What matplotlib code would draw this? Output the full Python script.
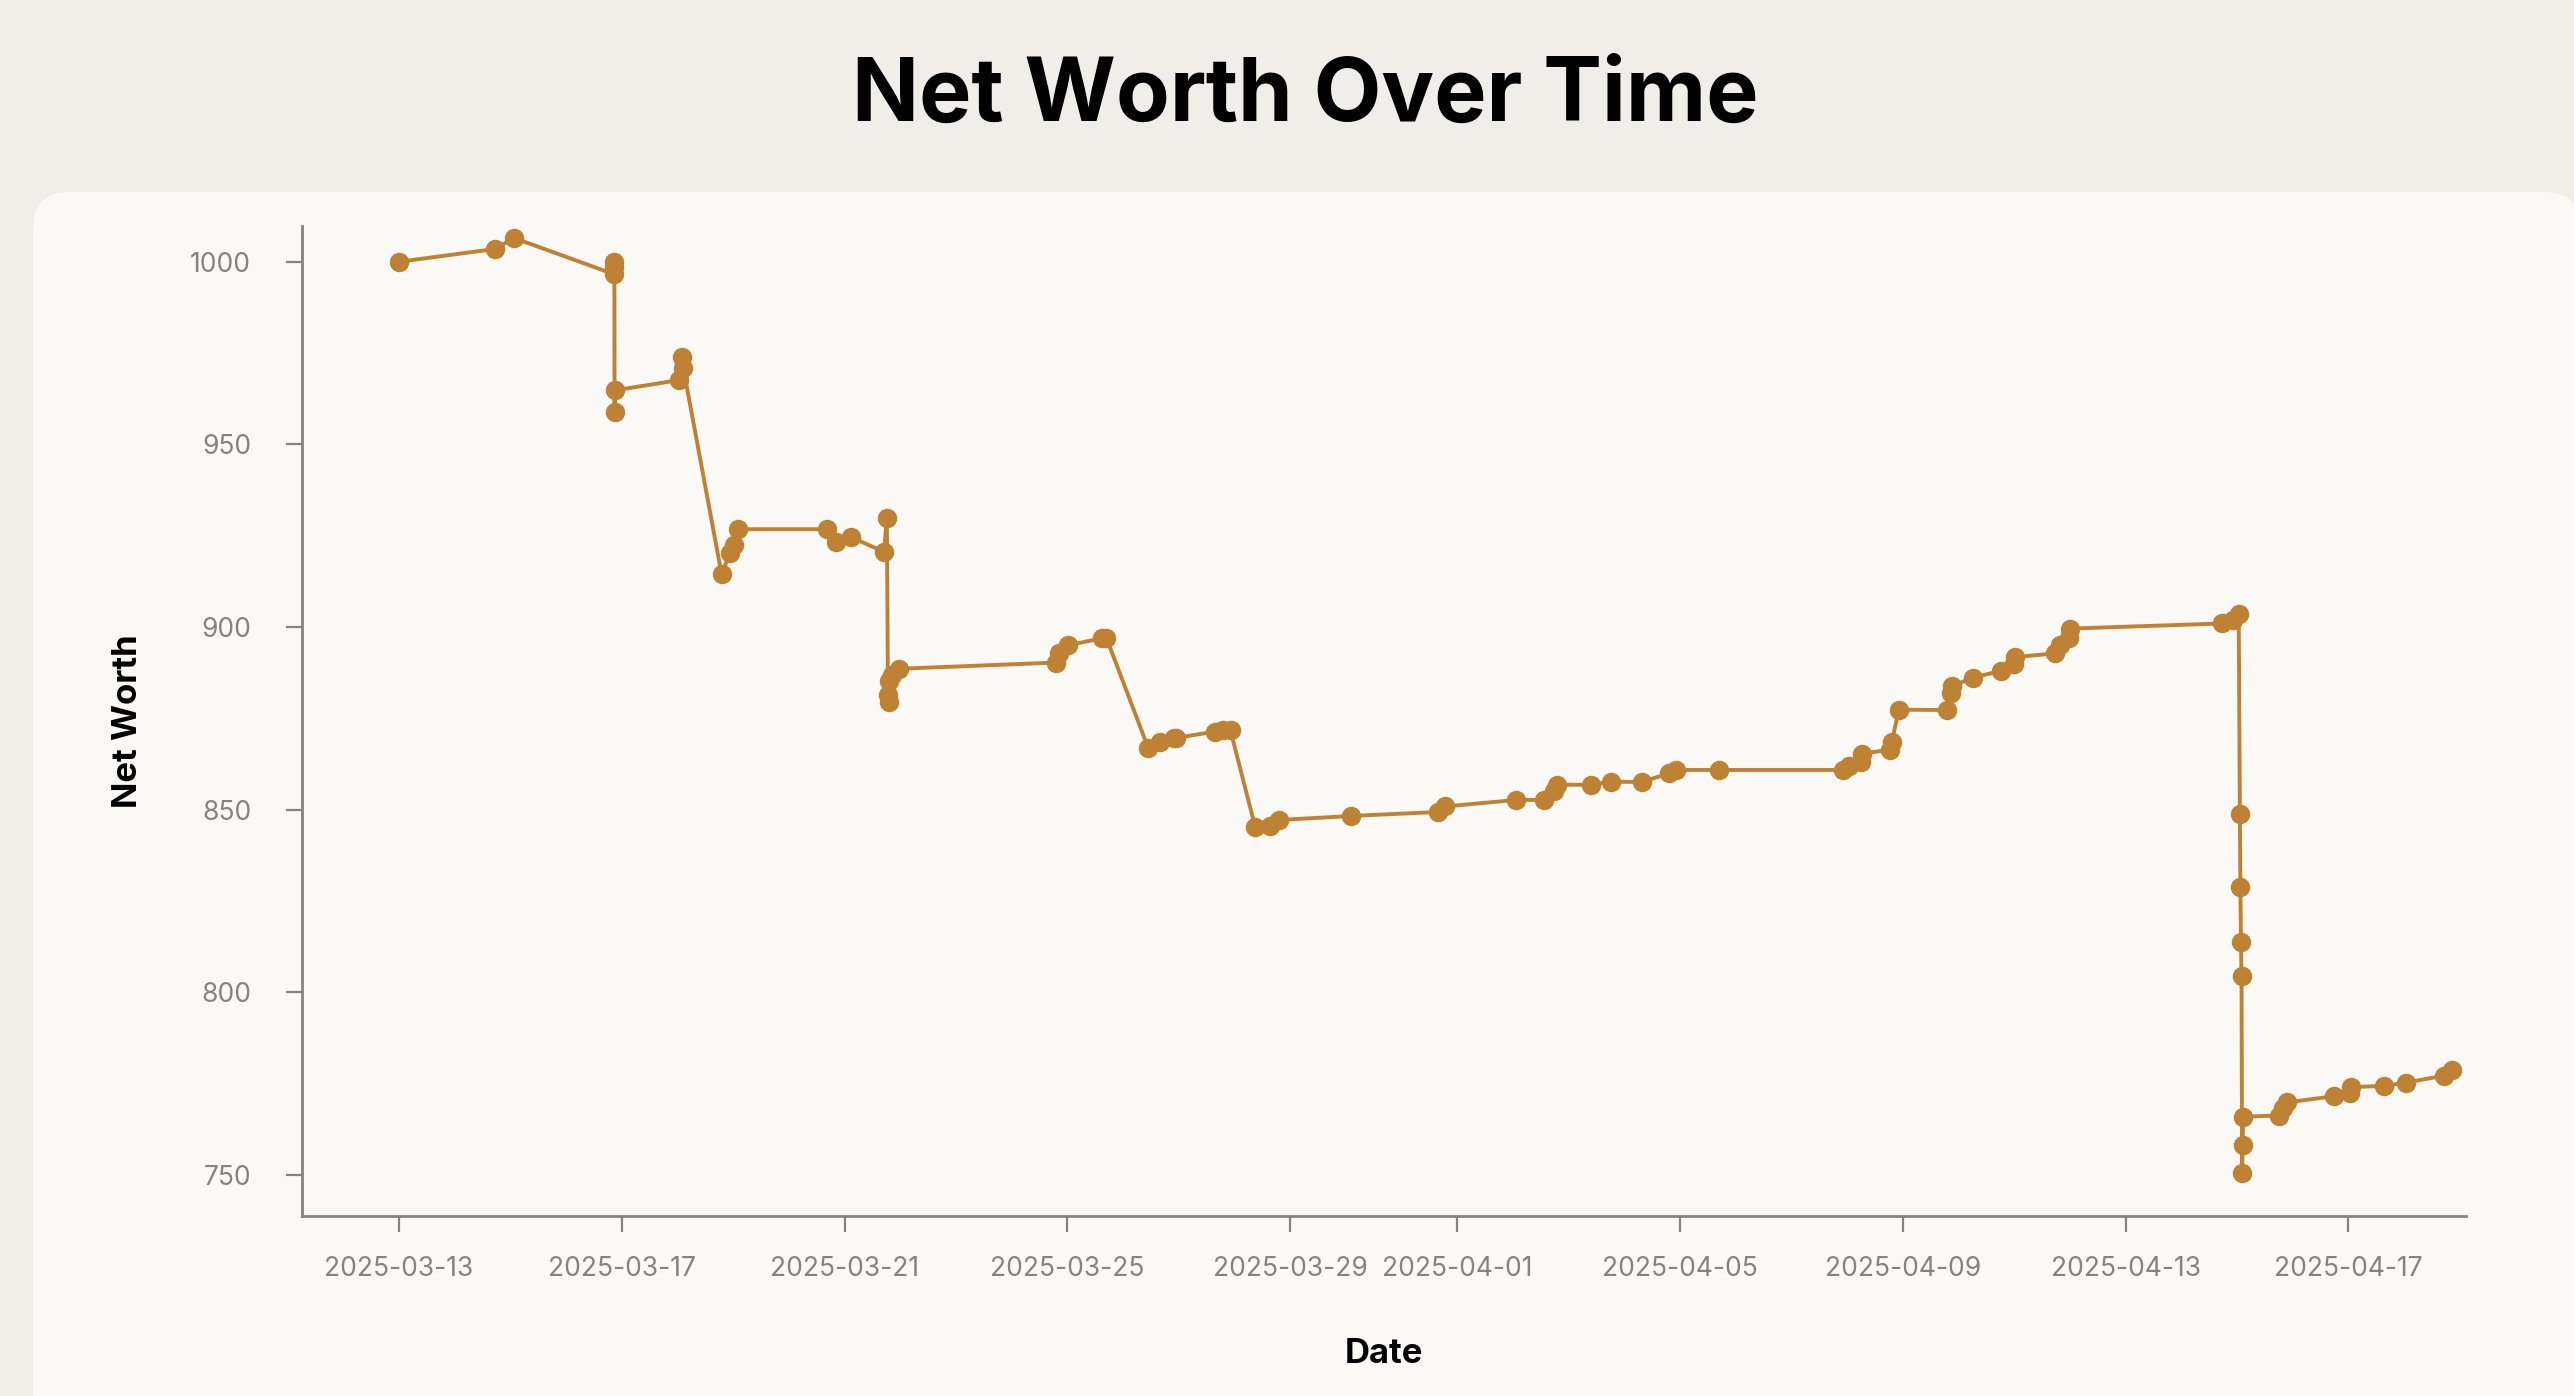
import matplotlib
matplotlib.use("Agg")
import matplotlib.pyplot as plt
import matplotlib.dates as mdates
from matplotlib.patches import FancyBboxPatch
import pandas as pd

# net worth snapshots
timestamps = [
    "2025-03-13 00:00", "2025-03-14 17:15", "2025-03-15 01:40",
    "2025-03-16 20:40", "2025-03-16 20:45", "2025-03-16 20:50", "2025-03-16 20:55", "2025-03-16 21:00",
    "2025-03-18 00:30", "2025-03-18 02:00", "2025-03-18 02:30",
    "2025-03-18 19:00", "2025-03-18 22:48", "2025-03-19 00:30", "2025-03-19 02:10",
    "2025-03-20 16:19", "2025-03-20 20:10", "2025-03-21 02:53", "2025-03-21 17:02", "2025-03-21 18:14",
    "2025-03-21 18:43", "2025-03-21 18:58", "2025-03-21 19:12", "2025-03-21 20:24", "2025-03-21 23:31",
    "2025-03-24 19:12", "2025-03-24 20:24", "2025-03-25 00:14", "2025-03-25 15:07", "2025-03-25 16:48",
    "2025-03-26 10:48", "2025-03-26 16:05", "2025-03-26 21:50", "2025-03-26 23:02",
    "2025-03-27 15:36", "2025-03-27 19:12", "2025-03-27 22:19",
    "2025-03-28 08:53", "2025-03-28 15:22", "2025-03-28 19:12",
    "2025-03-30 02:10", "2025-03-31 15:36", "2025-03-31 18:43",
    "2025-04-02 01:26", "2025-04-02 13:26", "2025-04-02 17:46", "2025-04-02 18:58",
    "2025-04-03 09:36", "2025-04-03 18:14", "2025-04-04 07:26", "2025-04-04 19:26", "2025-04-04 22:19",
    "2025-04-05 16:34", "2025-04-07 22:05", "2025-04-08 00:58", "2025-04-08 05:46", "2025-04-08 06:29",
    "2025-04-08 18:29", "2025-04-08 19:12", "2025-04-08 22:19",
    "2025-04-09 18:58", "2025-04-09 20:53", "2025-04-09 21:22", "2025-04-10 06:14", "2025-04-10 18:14",
    "2025-04-11 00:00", "2025-04-11 00:29", "2025-04-11 17:31", "2025-04-11 19:41", "2025-04-11 23:31",
    "2025-04-12 00:00", "2025-04-14 17:31", "2025-04-14 22:05", "2025-04-15 00:43",
    "2025-04-15 01:12", "2025-04-15 01:26", "2025-04-15 01:41", "2025-04-15 01:55",
    "2025-04-15 02:10", "2025-04-15 02:24", "2025-04-15 02:38",
    "2025-04-15 18:14", "2025-04-15 19:41", "2025-04-15 21:36", "2025-04-16 17:46",
    "2025-04-17 00:29", "2025-04-17 00:58", "2025-04-17 15:22", "2025-04-18 00:43",
    "2025-04-18 17:02", "2025-04-18 20:24",
]
net_worth = [
    1000.0, 1003.5, 1006.5,
    996.6, 1000.0, 998.6, 959.0, 964.8,
    967.6, 974.0, 971.0,
    914.6, 920.3, 922.6, 926.8,
    926.8, 923.2, 924.6, 920.6, 929.8,
    881.5, 879.6, 885.3, 886.9, 888.6,
    890.3, 893.0, 895.0, 897.0, 897.1,
    867.0, 868.5, 869.6, 869.7,
    871.4, 871.8, 871.7,
    845.4, 845.6, 847.2,
    848.3, 849.4, 850.9,
    852.7, 852.7, 855.2, 856.9,
    856.8, 857.7, 857.6, 860.0, 860.9,
    860.9, 860.9, 862.0, 863.1, 865.4,
    866.4, 868.5, 877.4,
    877.3, 882.0, 883.9, 886.2, 888.0,
    890.0, 891.8, 892.8, 895.0, 896.9,
    899.6, 901.0, 902.0, 903.5,
    848.8, 828.8, 813.9, 804.4,
    750.6, 758.3, 766.0,
    766.3, 768.4, 769.9, 771.6,
    772.6, 774.1, 774.4, 775.3,
    777.2, 778.8,
]

BG = "#EFEEE8"
PANEL = "#FAF9F5"
LINE = "#BF8235"
GREY = "#85837E"

plt.rcParams["font.family"] = ["Inter", "DejaVu Sans"]

dates = pd.to_datetime(timestamps)

fig = plt.figure(figsize=(12.87, 6.98), dpi=200, facecolor=BG)

# rounded card behind the chart
panel = FancyBboxPatch((0.165, -0.2), 12.9 - 0.165, 6.02 + 0.2,
                       boxstyle="round,pad=0,rounding_size=0.18",
                       transform=fig.dpi_scale_trans, facecolor=PANEL,
                       edgecolor="none", zorder=-10)
fig.patches.append(panel)

fig.text(0.507, 1 - 98 / 1396, "Net Worth Over Time", ha="center", va="center",
         fontsize=31.7, fontweight="bold", color="black")

ax = fig.add_axes([302 / 2574, 1 - 1216 / 1396, 2164 / 2574, 990 / 1396])
ax.set_zorder(5)
ax.set_facecolor("none")
ax.plot(dates, net_worth, color=LINE, lw=1.4, marker="o", markersize=6)

ax.set_xlim(pd.Timestamp("2025-03-13") - pd.Timedelta(days=1.74),
            pd.Timestamp("2025-03-13") + pd.Timedelta(days=37.11))
ax.set_ylim(738.8, 1009.8)
ax.set_yticks([750, 800, 850, 900, 950, 1000])
ax.xaxis.set_major_locator(mdates.DayLocator(bymonthday=range(1, 32, 4)))
ax.xaxis.set_major_formatter(mdates.DateFormatter("%Y-%m-%d"))

for side in ["top", "right"]:
    ax.spines[side].set_visible(False)
for side in ["left", "bottom"]:
    ax.spines[side].set_color(GREY)
    ax.spines[side].set_linewidth(1.0)

ax.tick_params(axis="both", colors=GREY, length=5.8, width=0.8, labelsize=9.5)
ax.tick_params(axis="x", pad=8.5)
ax.tick_params(axis="y", pad=12.5)

ax.set_xlabel("Date", fontsize=12.5, fontweight="bold", color="black")
ax.set_ylabel("Net Worth", fontsize=12.5, fontweight="bold", color="black")
ax.xaxis.set_label_coords(0.5, -0.123)
ax.yaxis.set_label_coords(-0.073, 0.5)

fig.savefig("out.png", dpi=200, facecolor=BG)
